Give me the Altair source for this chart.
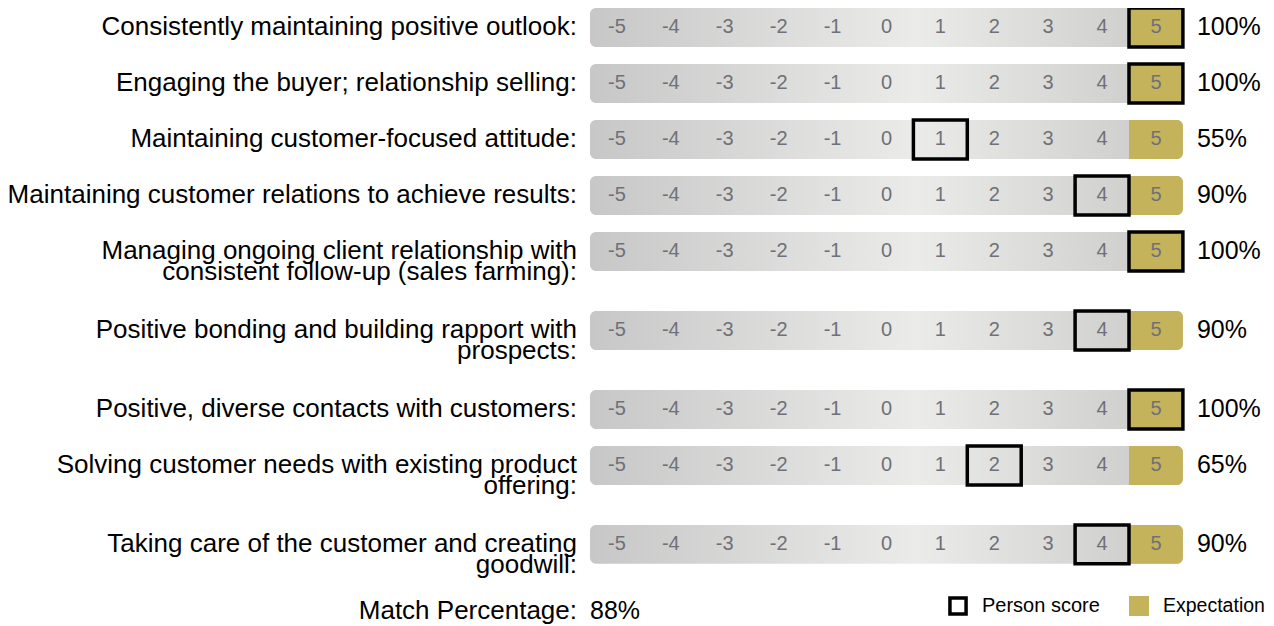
import altair as alt
import pandas as pd

# ---------------- data ----------------
labels = [
    "Consistently maintaining positive outlook:",
    "Engaging the buyer; relationship selling:",
    "Maintaining customer-focused attitude:",
    "Maintaining customer relations to achieve results:",
    "Managing ongoing client relationship with\nconsistent follow-up (sales farming):",
    "Positive bonding and building rapport with\nprospects:",
    "Positive, diverse contacts with customers:",
    "Solving customer needs with existing product\noffering:",
    "Taking care of the customer and creating\ngoodwill:",
]
person_scores = [5, 5, 1, 4, 5, 4, 5, 2, 4]
expectations = [5, 5, 5, 5, 5, 5, 5, 5, 5]
match_pcts = [100, 100, 55, 90, 100, 90, 100, 65, 90]
overall_match = 88
levels = list(range(-5, 6))
footer_label = "Match Percentage:"
legend_person = "Person score"
legend_expect = "Expectation"

# ---------------- layout helpers ----------------
LO = min(levels) - 0.5
HI = max(levels) + 0.5
pos = []
p = 0.0
for lab in labels:
    pos.append(p)
    p += 1 + 0.41 * lab.count("\n")
footer_pos = pos[-1] + 1.19

rows = pd.DataFrame({
    "label": labels,
    "pos": pos,
    "score": person_scores,
    "expect": expectations,
    "pct": [f"{v}%" for v in match_pcts],
    "lo": LO,
    "hi": HI,
    "kind_p": legend_person,
    "kind_e": legend_expect,
})
cells = pd.DataFrame(
    [{"pos": pp, "level": lv, "txt": str(lv)} for pp in pos for lv in levels]
)
footer = pd.DataFrame({"pos": [footer_pos], "lo": [LO], "label": [footer_label],
                       "val": [f"{overall_match}%"]})

FONT = "Liberation Sans"
GOLD = "#c4b35a"
HALF = 0.348
W, H = 1258, 618
PX_X = 53.9   # pixels per score unit
PX_Y = 56.0   # pixels per row unit
x_left = LO - 582 / PX_X

xscale = alt.Scale(domain=[x_left, x_left + W / PX_X], nice=False, zero=False)
yscale = alt.Scale(domain=[-0.348, -0.348 + H / PX_Y], nice=False, zero=False, reverse=True)

base = alt.Chart(rows).transform_calculate(
    y0=f"datum.pos - {HALF}", y1=f"datum.pos + {HALF}",
    e0="datum.expect - 0.5", e1="datum.expect + 0.5",
    s0="datum.score - 0.5", s1="datum.score + 0.5",
)

gradient = alt.Gradient(
    gradient="linear",
    stops=[
        alt.GradientStop(offset=0, color="#c6c7c6"),
        alt.GradientStop(offset=0.55, color="#ebecea"),
        alt.GradientStop(offset=1, color="#c9cac8"),
    ],
    x1=0, x2=1, y1=0, y2=0,
)

bg = base.mark_rect(cornerRadius=6, color=gradient).encode(
    x=alt.X("lo:Q", scale=xscale, axis=None),
    x2="hi:Q",
    y=alt.Y("y0:Q", scale=yscale, axis=None),
    y2="y1:Q",
)

gold = base.mark_rect(cornerRadiusTopRight=6, cornerRadiusBottomRight=6).encode(
    x=alt.X("e0:Q", scale=xscale, axis=None),
    x2="e1:Q",
    y=alt.Y("y0:Q", scale=yscale, axis=None),
    y2="y1:Q",
    fill=alt.Fill("kind_e:N", scale=alt.Scale(domain=[legend_expect], range=[GOLD]),
                  legend=alt.Legend(title=None, orient="none", legendX=1120, legendY=587,
                                    symbolType="square", symbolSize=400,
                                    labelFontSize=19.5, labelFont=FONT, labelColor="black",
                                    labelOffset=13, padding=0)),
)

nums = alt.Chart(cells).mark_text(font=FONT, fontSize=20, color="#707078",
                                  baseline="middle", align="center").encode(
    x=alt.X("level:Q", scale=xscale, axis=None),
    y=alt.Y("pos:Q", scale=yscale, axis=None),
    text="txt:N",
)

box = base.mark_rect(filled=False, strokeWidth=3.5).encode(
    x=alt.X("s0:Q", scale=xscale, axis=None),
    x2="s1:Q",
    y=alt.Y("y0:Q", scale=yscale, axis=None),
    y2="y1:Q",
    stroke=alt.Stroke("kind_p:N", scale=alt.Scale(domain=[legend_person], range=["black"]),
                      legend=alt.Legend(title=None, orient="none", legendX=940, legendY=588,
                                        symbolType="square", symbolSize=260,
                                        symbolStrokeWidth=3.5,
                                        labelFontSize=20, labelFont=FONT, labelColor="black",
                                        labelOffset=14, padding=0)),
)

lab_text = base.mark_text(font=FONT, fontSize=26, color="black", align="right",
                          baseline="middle", dx=-13, lineBreak="\n", lineHeight=21).encode(
    x=alt.X("lo:Q", scale=xscale, axis=None),
    y=alt.Y("pos:Q", scale=yscale, axis=None),
    text="label:N",
)

pct_text = base.mark_text(font=FONT, fontSize=25, color="black", align="left",
                          baseline="middle", dx=14).encode(
    x=alt.X("hi:Q", scale=xscale, axis=None),
    y=alt.Y("pos:Q", scale=yscale, axis=None),
    text="pct:N",
)

foot_lab = alt.Chart(footer).mark_text(font=FONT, fontSize=26, color="black", align="right",
                                       baseline="middle", dx=-13).encode(
    x=alt.X("lo:Q", scale=xscale, axis=None),
    y=alt.Y("pos:Q", scale=yscale, axis=None),
    text="label:N",
)
foot_val = alt.Chart(footer).mark_text(font=FONT, fontSize=25, color="black", align="left",
                                       baseline="middle", dx=0).encode(
    x=alt.X("lo:Q", scale=xscale, axis=None),
    y=alt.Y("pos:Q", scale=yscale, axis=None),
    text="val:N",
)

chart = alt.layer(bg, gold, nums, box, lab_text, pct_text, foot_lab, foot_val).resolve_legend(
    fill="independent", stroke="independent"
).properties(
    width=W, height=H, padding=0, autosize=alt.AutoSizeParams(type="none")
).configure(font=FONT).configure_view(strokeWidth=0, stroke="transparent")

chart.save("out.html", embed_options={"renderer": "svg", "actions": False})
